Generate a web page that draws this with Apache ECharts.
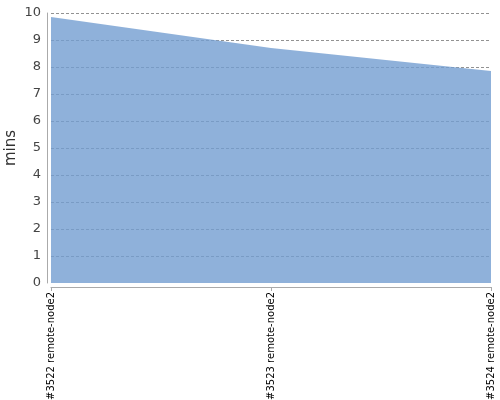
<!DOCTYPE html>
<html><head><meta charset="utf-8">
<script src="https://cdn.jsdelivr.net/npm/echarts@6/dist/echarts.min.js"></script>
<style>html,body{margin:0;padding:0;background:#fff}#c{width:500px;height:400px}</style>
</head><body><div id="c"></div>
<script>
const categories = ['#3522 remote-node2', '#3523 remote-node2', '#3524 remote-node2'];
const durations = [9.85, 8.7, 7.85];
const yTicks = [0, 1, 2, 3, 4, 5, 6, 7, 8, 9, 10];

const chart = echarts.init(document.getElementById('c'), null, {renderer: 'canvas'});
chart.setOption({
  animation: false,
  grid: {left: 51, right: 9, top: 13, bottom: 117, containLabel: false, outerBoundsMode: 'none'},
  xAxis: {
    type: 'category', data: categories, boundaryGap: false, offset: 4, z: 4,
    axisLine: {show: true, onZero: false, lineStyle: {color: '#aaa', width: 1}},
    axisTick: {show: true, length: 4, lineStyle: {color: '#aaa'}, alignWithLabel: true},
    axisLabel: {rotate: 90, color: '#000', fontSize: 10, fontFamily: 'DejaVu Sans', margin: 5, interval: 0},
    splitLine: {show: false}
  },
  yAxis: {
    type: 'value', min: yTicks[0], max: yTicks[yTicks.length - 1], interval: 1, offset: 4, z: 0,
    name: 'mins', nameLocation: 'middle', nameGap: 28, nameMoveOverlap: false,
    nameTextStyle: {fontSize: 15, color: '#333', fontFamily: 'DejaVu Sans'},
    axisLine: {show: true, onZero: false, lineStyle: {color: '#aaa', width: 1}},
    axisTick: {show: false},
    axisLabel: {color: '#444', fontSize: 13, fontFamily: 'DejaVu Sans', margin: 6},
    splitLine: {show: true, showMinLine: false, lineStyle: {color: 'rgba(110,110,110,0.75)', type: [3, 2], width: 1}}
  },
  series: [{
    type: 'line', data: durations, symbol: 'none', z: 2,
    lineStyle: {width: 0},
    areaStyle: {color: 'rgba(115,158,209,0.8)', opacity: 1}
  }]
});
</script></body></html>
